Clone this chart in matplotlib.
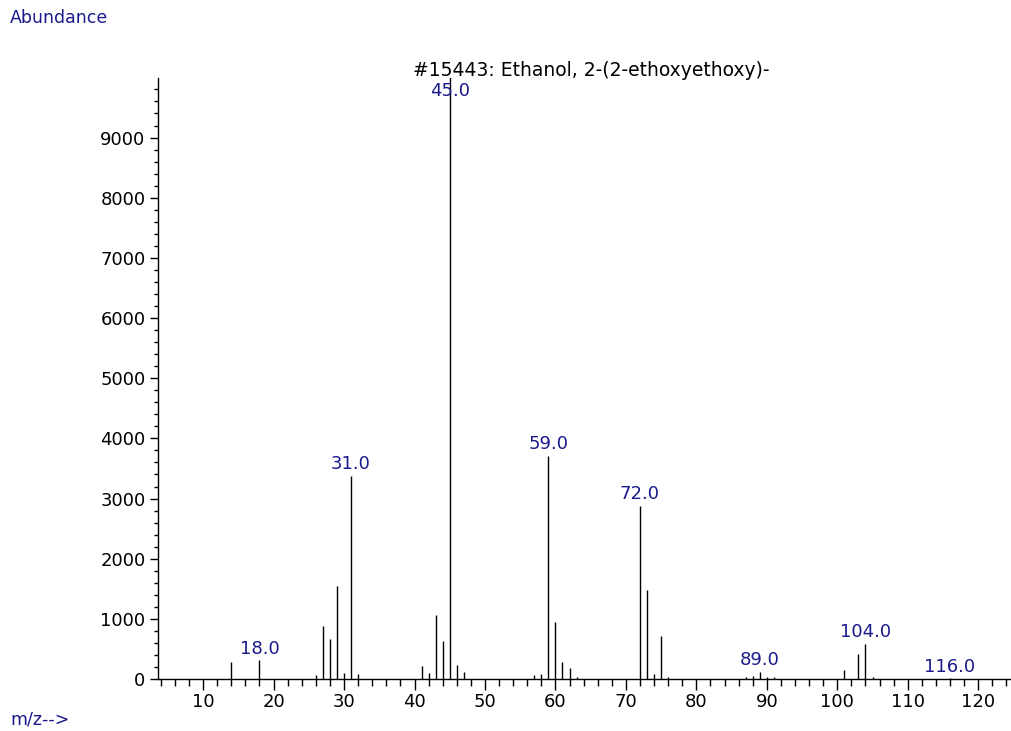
import matplotlib
matplotlib.use("Agg")
import matplotlib.pyplot as plt
from matplotlib.ticker import MultipleLocator

plt.rcParams['font.family'] = ['DejaVu Sans']

# spectrum
mz = [14, 18, 26, 27, 28, 29, 30, 31, 32, 41, 42, 43, 44, 45, 46, 47,
      57, 58, 59, 60, 61, 62, 63, 72, 73, 74, 75, 76, 87, 88, 89, 90, 91,
      101, 103, 104, 105, 116]
abundance = [280, 310, 70, 880, 670, 1550, 100, 3380, 90, 210, 100, 1070, 630, 10000, 230, 120,
             70, 90, 3710, 950, 280, 190, 30, 2880, 1480, 90, 720, 30, 30, 50, 120, 40, 40,
             150, 420, 580, 30, 10]
labelled = [18, 31, 45, 59, 72, 89, 104, 116]
title = "#15443: Ethanol, 2-(2-ethoxyethoxy)-"

navy = "#1a1a8c"

fig = plt.figure(figsize=(10.11, 7.31), dpi=100)
ax = fig.add_axes([0.1563, 0.0711, 0.843, 0.8222])

ax.vlines(mz, 0, abundance, color="black", linewidth=1.0)

for m in labelled:
    v = abundance[mz.index(m)]
    ax.annotate(f"{m:.1f}", (m, min(v, 9580)), xytext=(0, 2), textcoords="offset points",
                ha="center", va="bottom", color=navy, fontsize=13)

ax.set_xlim(3.6, 124.55)
ax.set_ylim(0, 9990)
ax.xaxis.set_major_locator(MultipleLocator(10))
ax.xaxis.set_minor_locator(MultipleLocator(2))
ax.yaxis.set_major_locator(MultipleLocator(1000))
ax.yaxis.set_minor_locator(MultipleLocator(200))

for s in ["top", "right"]:
    ax.spines[s].set_visible(False)
ax.spines["left"].set_linewidth(1.0)
ax.spines["bottom"].set_linewidth(1.0)

ax.tick_params(axis="x", which="major", length=8, width=1, labelsize=13, pad=2)
ax.tick_params(axis="x", which="minor", length=5, width=1)
ax.tick_params(axis="y", which="major", length=6, width=1, labelsize=13, pad=3)
ax.tick_params(axis="y", which="minor", length=3, width=1)

fig.text(10 / 1011, 1 - 18 / 731, "Abundance", color=navy, fontsize=12.5, va="center", ha="left")
fig.text(10 / 1011, 1 - 720 / 731, "m/z-->", color=navy, fontsize=12.5, va="center", ha="left")
fig.text(591 / 1011, 1 - 70 / 731, title, color="black", fontsize=13.5, va="center", ha="center")

fig.savefig("out.png", dpi=100)
